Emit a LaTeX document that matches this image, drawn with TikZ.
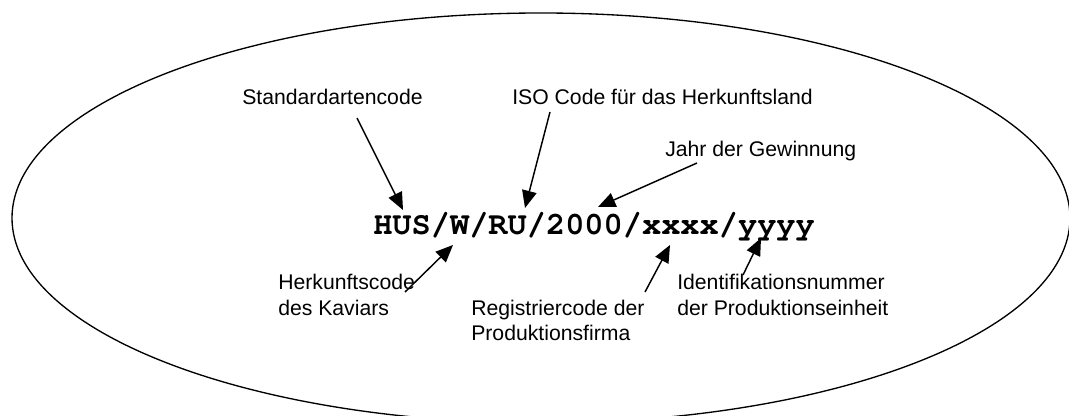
\documentclass[tikz,border=0pt]{standalone}
\usepackage{fontspec}
\setmainfont{Liberation Sans}
\newcommand\codefont{\fontencoding{T1}\fontfamily{pcr}\fontseries{b}\selectfont}
\usepackage{tikz}
\usetikzlibrary{arrows.meta}

\begin{document}
\begin{tikzpicture}[x=0.75pt,y=-0.75pt]
	\tikzstyle{every node}+=[inner sep=0pt]
	\tikzstyle{lbl}=[anchor=base west,align=left,font=\fontsize{15.9}{18.75}\selectfont]
	\tikzstyle{pfeil}=[black,line width=1.1pt,-{Triangle[length=13pt,width=11pt]}]
	\useasboundingbox (0,0) rectangle (1069,416);
	\begin{scope}
	\clip (0,0) rectangle (1069,416);
	\draw [black,line width=1pt] (541,218) ellipse (529 and 205);
	\end{scope}
	\node [anchor=base west,font=\fontsize{24}{28}\codefont] (code) at (373,235) {HUS/W/RU/2000/xxxx/yyyy};
	\node [lbl] (art) at (242,105) {Standardartencode};
	\node [lbl] (iso) at (512,105) {ISO Code für das Herkunftsland};
	\node [lbl] (jahr) at (665,157) {Jahr der Gewinnung};
	\node [lbl] (herk) at (278,315) {Herkunftscode\\des Kaviars};
	\node [lbl] (reg) at (471,340) {Registriercode der\\Produktionsfirma};
	\node [lbl] (ident) at (677,315) {Identifikationsnummer\\der Produktionseinheit};
	\coordinate (art-a) at (357,118);
	\coordinate (art-b) at (403,210);
	\coordinate (iso-a) at (550,112);
	\coordinate (iso-b) at (525,208);
	\coordinate (jahr-a) at (697,163);
	\coordinate (jahr-b) at (598,207);
	\coordinate (herk-a) at (405,292);
	\coordinate (herk-b) at (453,245);
	\coordinate (reg-a) at (645,292);
	\coordinate (reg-b) at (670,245);
	\coordinate (ident-a) at (743,275);
	\coordinate (ident-b) at (761,238);
	\draw [pfeil] (art-a) -- (art-b);
	\draw [pfeil] (iso-a) -- (iso-b);
	\draw [pfeil] (jahr-a) -- (jahr-b);
	\draw [pfeil] (herk-a) -- (herk-b);
	\draw [pfeil] (reg-a) -- (reg-b);
	\draw [pfeil] (ident-a) -- (ident-b);
\end{tikzpicture}
\end{document}
